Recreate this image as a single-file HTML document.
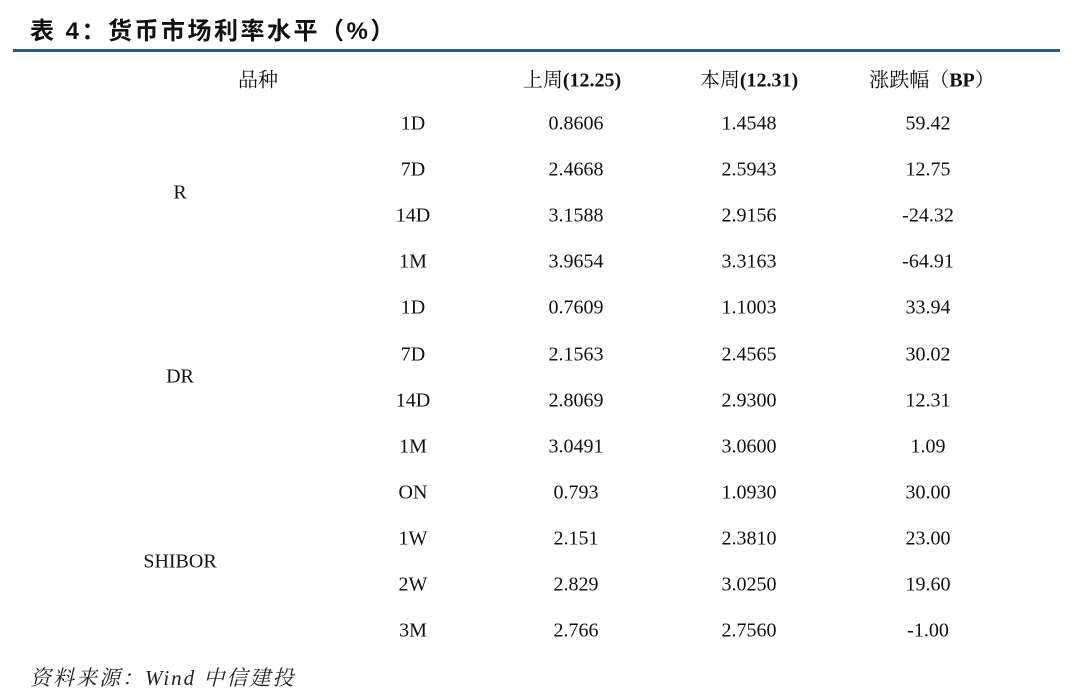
<!DOCTYPE html>
<html><head><meta charset="utf-8"><style>
body{margin:0;width:1080px;height:697px;background:#fff;position:relative;overflow:hidden;font-family:"Liberation Serif","Noto Serif CJK SC",serif;color:#111}
.t{position:absolute;font-size:20px;white-space:nowrap;transform:translate(-50%,-50%)}
.title{position:absolute;left:30px;top:11px;font-size:24px;font-weight:bold;font-family:"Liberation Sans","Noto Sans CJK SC",sans-serif;letter-spacing:2.5px}
.bar{position:absolute;left:13px;top:49px;width:1047px;height:3px;background:#1f5f8f}
.src{position:absolute;left:30px;top:662px;font-size:21px;font-style:italic;letter-spacing:2px;font-family:"Liberation Serif","Noto Serif CJK SC",serif;color:#222}
b{font-weight:bold}
</style></head><body>
<div class="title">表 4：货币市场利率水平（%）</div>
<div class="bar"></div>
<div class="t" style="left:258px;top:78px">品种</div>
<div class="t" style="left:572px;top:78px">上周<b>(12.25)</b></div>
<div class="t" style="left:749px;top:78px">本周<b>(12.31)</b></div>
<div class="t" style="left:932px;top:78px">涨跌幅（<b>BP</b>）</div>
<div class="t" style="left:180px;top:193px">R</div>
<div class="t" style="left:180px;top:377px">DR</div>
<div class="t" style="left:180px;top:562px">SHIBOR</div>
<div id="rows"></div>
<script>
var d=[["1D","0.8606","1.4548","59.42"],["7D","2.4668","2.5943","12.75"],["14D","3.1588","2.9156","-24.32"],["1M","3.9654","3.3163","-64.91"],["1D","0.7609","1.1003","33.94"],["7D","2.1563","2.4565","30.02"],["14D","2.8069","2.9300","12.31"],["1M","3.0491","3.0600","1.09"],["ON","0.793","1.0930","30.00"],["1W","2.151","2.3810","23.00"],["2W","2.829","3.0250","19.60"],["3M","2.766","2.7560","-1.00"]];
var xs=[413,576,749,928],h="";
d.forEach(function(r,i){var y=124+i*46.1;r.forEach(function(c,j){h+='<div class="t" style="left:'+xs[j]+'px;top:'+y+'px">'+c+'</div>';});});
document.getElementById("rows").innerHTML=h;
</script>
<div class="src">资料来源：Wind 中信建投</div>
</body></html>
